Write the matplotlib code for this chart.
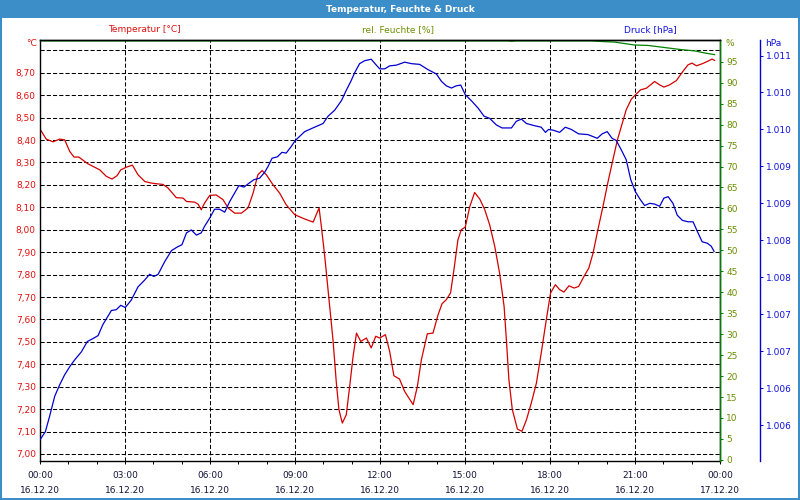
"""
Weather station day chart: temperature, humidity and pressure on three y axes.
"""

import matplotlib.pyplot as plt
from matplotlib.patches import Rectangle

plt.rcParams['font.family'] = 'DejaVu Sans'
plt.rcParams['lines.scale_dashes'] = False

# --- data (hours since 16.12.20 00:00) ---
temp_hours = [0, 0.22, 0.46, 0.69, 0.87, 1.05, 1.2, 1.37, 1.69, 2.11, 2.34, 2.54,
              2.72, 2.85, 3.05, 3.26, 3.46, 3.7, 3.93, 4.11, 4.34, 4.52, 4.81, 5.05,
              5.17, 5.46, 5.58, 5.69, 5.81, 5.99, 6.22, 6.46, 6.64, 6.87, 7.11, 7.34,
              7.52, 7.69, 7.84, 7.99, 8.22, 8.46, 8.69, 8.99, 9.34, 9.64, 9.85, 9.93,
              10.05, 10.19, 10.34, 10.46, 10.55, 10.67, 10.81, 10.93, 11.05, 11.17,
              11.32, 11.52, 11.69, 11.85, 11.99, 12.19, 12.34, 12.49, 12.69, 12.87,
              13.17, 13.32, 13.46, 13.67, 13.87, 14.05, 14.19, 14.34, 14.49, 14.61,
              14.75, 14.87, 15.01, 15.17, 15.34, 15.52, 15.69, 15.87, 16.05, 16.22,
              16.38, 16.46, 16.55, 16.67, 16.85, 17.01, 17.17, 17.34, 17.52, 17.69,
              17.87, 18.02, 18.19, 18.34, 18.49, 18.67, 18.85, 19.01, 19.2, 19.37,
              19.52, 19.69, 19.87, 20.05, 20.22, 20.38, 20.52, 20.69, 20.87, 21.05,
              21.2, 21.4, 21.55, 21.69, 21.87, 22.02, 22.22, 22.46, 22.69, 22.87,
              23.01, 23.17, 23.37, 23.55, 23.72, 23.81]
temp_values = [8.449, 8.404, 8.392, 8.404, 8.401, 8.349, 8.324, 8.324, 8.294, 8.267,
               8.238, 8.226, 8.241, 8.267, 8.279, 8.288, 8.245, 8.215, 8.208, 8.205,
               8.202, 8.186, 8.143, 8.141, 8.126, 8.123, 8.114, 8.089, 8.119, 8.153,
               8.155, 8.134, 8.097, 8.074, 8.074, 8.097, 8.163, 8.245, 8.264, 8.245,
               8.201, 8.163, 8.111, 8.067, 8.048, 8.034, 8.097, 8.015, 7.881, 7.703,
               7.510, 7.316, 7.198, 7.138, 7.175, 7.302, 7.435, 7.539, 7.502, 7.517,
               7.473, 7.525, 7.517, 7.532, 7.458, 7.349, 7.334, 7.279, 7.220, 7.302,
               7.420, 7.536, 7.539, 7.621, 7.670, 7.688, 7.718, 7.822, 7.955, 8.000,
               8.012, 8.104, 8.166, 8.137, 8.092, 8.022, 7.926, 7.807, 7.658, 7.510,
               7.331, 7.198, 7.111, 7.101, 7.153, 7.227, 7.316, 7.450, 7.599, 7.718,
               7.755, 7.733, 7.722, 7.750, 7.740, 7.747, 7.792, 7.829, 7.896, 8.000,
               8.104, 8.215, 8.312, 8.401, 8.461, 8.535, 8.582, 8.606, 8.624, 8.631,
               8.646, 8.661, 8.646, 8.636, 8.646, 8.665, 8.706, 8.735, 8.743, 8.731,
               8.740, 8.750, 8.761, 8.755]

pres_hours = [0, 0.19, 0.34, 0.52, 0.69, 0.87, 1.05, 1.22, 1.46, 1.67, 1.87, 2.05,
              2.22, 2.52, 2.69, 2.85, 3.01, 3.22, 3.46, 3.69, 3.87, 4.02, 4.17, 4.4,
              4.64, 4.85, 5.01, 5.17, 5.34, 5.52, 5.69, 5.81, 5.99, 6.16, 6.34, 6.52,
              6.69, 6.87, 7.02, 7.2, 7.37, 7.55, 7.75, 7.93, 8.05, 8.19, 8.38, 8.54,
              8.69, 8.85, 9.01, 9.34, 9.69, 9.99, 10.17, 10.4, 10.64, 10.81, 10.97,
              11.11, 11.28, 11.46, 11.69, 11.87, 11.99, 12.17, 12.34, 12.58, 12.87,
              13.11, 13.4, 13.69, 13.99, 14.17, 14.34, 14.52, 14.69, 14.85, 15.01,
              15.22, 15.46, 15.67, 15.87, 16.11, 16.31, 16.64, 16.81, 16.99, 17.17,
              17.46, 17.69, 17.84, 17.95, 18.11, 18.34, 18.54, 18.75, 19.01, 19.34,
              19.67, 19.84, 20.02, 20.19, 20.34, 20.52, 20.69, 20.85, 21.01, 21.17,
              21.34, 21.52, 21.69, 21.87, 22.02, 22.17, 22.34, 22.49, 22.67, 22.87,
              23.05, 23.2, 23.37, 23.55, 23.69, 23.79]
pres_values = [1005.80, 1005.91, 1006.12, 1006.39, 1006.54, 1006.68, 1006.79, 1006.88,
               1006.99, 1007.13, 1007.17, 1007.21, 1007.36, 1007.55, 1007.56, 1007.62,
               1007.59, 1007.69, 1007.87, 1007.96, 1008.04, 1008.01, 1008.04, 1008.21,
               1008.36, 1008.41, 1008.44, 1008.60, 1008.64, 1008.57, 1008.60, 1008.69,
               1008.80, 1008.92, 1008.92, 1008.88, 1009.02, 1009.14, 1009.24, 1009.22,
               1009.27, 1009.32, 1009.34, 1009.42, 1009.50, 1009.61, 1009.63, 1009.69,
               1009.68, 1009.76, 1009.85, 1009.97, 1010.03, 1010.08, 1010.18, 1010.26,
               1010.39, 1010.53, 1010.65, 1010.77, 1010.89, 1010.93, 1010.95, 1010.87,
               1010.82, 1010.82, 1010.86, 1010.87, 1010.91, 1010.89, 1010.88, 1010.81,
               1010.75, 1010.65, 1010.59, 1010.56, 1010.59, 1010.60, 1010.47, 1010.39,
               1010.29, 1010.18, 1010.15, 1010.06, 1010.02, 1010.02, 1010.11, 1010.14,
               1010.08, 1010.05, 1010.03, 1009.96, 1010.00, 1009.99, 1009.96, 1010.03,
               1010.00, 1009.94, 1009.93, 1009.88, 1009.94, 1009.97, 1009.88, 1009.85,
               1009.72, 1009.59, 1009.32, 1009.16, 1009.06, 1008.97, 1009.00, 1008.99,
               1008.96, 1009.07, 1009.09, 1009.00, 1008.84, 1008.77, 1008.75, 1008.75,
               1008.62, 1008.48, 1008.46, 1008.42, 1008.35]

hum_hours = [0, 16.5, 16.65, 16.8, 19.5, 19.64, 20.28, 20.99, 21.46, 22.05, 22.64,
             23.11, 23.46, 23.81]
hum_values = [100, 100, 99.9, 100, 100, 99.9, 99.7, 99.0, 98.9, 98.4, 97.9, 97.6,
              97.1, 96.7]

time_ticks = [0, 3, 6, 9, 12, 15, 18, 21, 24]
time_labels = ['00:00', '03:00', '06:00', '09:00', '12:00', '15:00', '18:00',
               '21:00', '00:00']
date_labels = ['16.12.20'] * 8 + ['17.12.20']
temp_ticks = [7.0, 7.1, 7.2, 7.3, 7.4, 7.5, 7.6, 7.7, 7.8, 7.9, 8.0, 8.1, 8.2,
              8.3, 8.4, 8.5, 8.6, 8.7, 8.8]
hum_ticks = list(range(0, 100, 5))
pres_ticks = [1006.0, 1006.5, 1007.0, 1007.5, 1008.0, 1008.5, 1009.0, 1009.5,
              1010.0, 1010.5, 1011.0]

# --- styles ---
col_frame = '#3c8ec8'
col_temp = '#d40000'
col_temp_txt = '#e01010'
col_hum = '#008000'
col_hum_txt = '#6b8e00'
col_pres = '#0000d0'
col_pres_txt = '#1010e0'
col_time = '#14143c'
fs = 6.5
W, H = 800, 500

fig = plt.figure(figsize=(8, 5), dpi=100)

# window frame
fig.patches.append(Rectangle((0, 1 - 18 / H), 1, 18 / H, transform=fig.transFigure,
                             facecolor=col_frame, edgecolor='none', zorder=-5))
for r in [(0, 0, 2 / W, 1), (1 - 2 / W, 0, 2 / W, 1), (0, 0, 1, 2 / H)]:
    fig.patches.append(Rectangle(r[:2], r[2], r[3], transform=fig.transFigure,
                                 facecolor=col_frame, edgecolor='none', zorder=-5))
fig.text(0.5, 1 - 9 / H, 'Temperatur, Feuchte & Druck', color='white',
         fontsize=fs, fontweight='bold', ha='center', va='center')

ax = fig.add_axes([40 / W, 1 - 460.5 / H, 680 / W, 420.5 / H])
ax_h = ax.twinx()
ax_p = ax.twinx()

# temperature
ax.plot(temp_hours, temp_values, color=col_temp, lw=0.9)
ax.set_xlim(0, 24)
ax.set_ylim(6.971, 8.846)
ax.set_yticks(temp_ticks)
ax.set_yticklabels([f'{t:.2f}'.replace('.', ',') for t in temp_ticks[:-1]] + [''])
ax.tick_params(axis='y', length=0, pad=3, labelsize=fs, labelcolor=col_temp_txt)
ax.set_xticks(time_ticks)
ax.set_xticklabels([f'{t}\n{d}' for t, d in zip(time_labels, date_labels)])
ax.set_xticks(range(25), minor=True)
ax.tick_params(axis='x', which='both', length=2.2, width=0.7, direction='out',
               labelsize=fs, labelcolor=col_time, pad=5)
plt.setp(ax.get_xticklabels(), linespacing=1.9)
ax.grid(True, color='black', lw=0.75, linestyle=(0, (3, 1.5)))
for s in ax.spines.values():
    s.set_linewidth(1.0)

# humidity
ax_h.plot(hum_hours, hum_values, color=col_hum, lw=0.9)
ax_h.set_ylim(-0.15, 100.2)
ax_h.set_yticks(hum_ticks)
ax_h.tick_params(axis='y', length=2.5, width=0.7, color=col_hum, pad=2,
                 labelsize=fs, labelcolor=col_hum_txt)
ax_h.spines['right'].set_color(col_hum)
ax_h.spines['right'].set_linewidth(1.0)
for s in ['left', 'bottom']:
    ax_h.spines[s].set_visible(False)
ax_h.spines['top'].set_linewidth(1.0)

# pressure
ax_p.plot(pres_hours, pres_values, color=col_pres, lw=0.9)
ax_p.set_ylim(1005.52, 1011.21)
ax_p.set_yticks(pres_ticks)
ax_p.set_yticklabels([f'{int(v) // 1000}.{int(v) % 1000:03d}' for v in pres_ticks])
ax_p.tick_params(axis='y', length=2.5, width=0.7, color=col_pres, pad=2,
                 labelsize=fs, labelcolor=col_pres_txt)
ax_p.spines['right'].set_position(('axes', 720 / 680))
ax_p.spines['right'].set_color(col_pres)
ax_p.spines['right'].set_linewidth(1.0)
for s in ['left', 'bottom', 'top']:
    ax_p.spines[s].set_visible(False)

# headers and units
fig.text(144 / W, 1 - 30 / H, 'Temperatur [°C]', color=col_temp_txt, fontsize=fs,
         ha='center', va='center')
fig.text(398 / W, 1 - 30 / H, 'rel. Feuchte [%]', color=col_hum_txt, fontsize=fs,
         ha='center', va='center')
fig.text(650 / W, 1 - 30 / H, 'Druck [hPa]', color=col_pres_txt, fontsize=fs,
         ha='center', va='center')
fig.text(37 / W, 1 - 44 / H, '°C', color=col_temp_txt, fontsize=fs,
         ha='right', va='center')
fig.text(725 / W, 1 - 44 / H, '%', color=col_hum_txt, fontsize=fs,
         ha='left', va='center')
fig.text(765 / W, 1 - 44 / H, 'hPa', color=col_pres_txt, fontsize=fs,
         ha='left', va='center')

fig.savefig('out.png', dpi=100)
